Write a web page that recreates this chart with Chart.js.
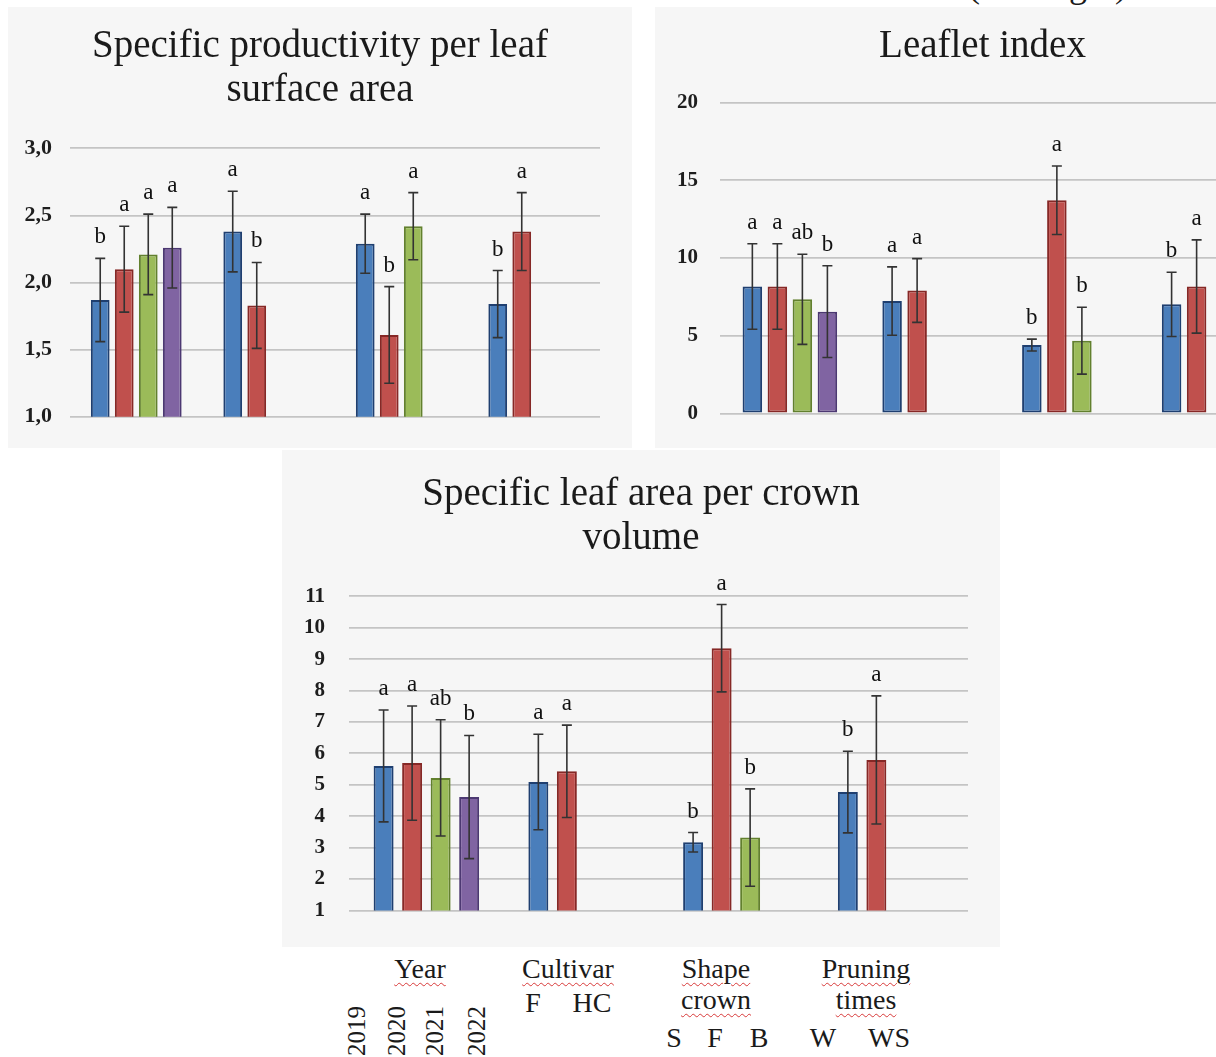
<!DOCTYPE html>
<html lang="en">

<head>
    <meta charset="UTF-8">
    <title>Leaf indices</title>
    <script src="https://cdn.jsdelivr.net/npm/chart.js"></script>
    <style>
        html, body {
            margin: 0;
            padding: 0;
            background: #fff;
            overflow: hidden;
            width: 1216px;
            height: 1057px;
        }

        body {
            position: relative;
            font-family: 'Liberation Serif', 'Times New Roman', serif;
            color: #1a1a1a;
        }

        .panel {
            position: absolute;
            background: #f6f6f6;
        }

        #p1 { left: 8px; top: 7px; width: 624px; height: 441px; }
        #p2 { left: 655px; top: 7px; width: 655px; height: 441px; }
        #p3 { left: 282px; top: 450px; width: 718px; height: 497px; }

        .lbl {
            position: absolute;
            font-size: 28px;
            line-height: 1;
            transform: translateX(-50%);
            white-space: nowrap;
        }

        .squig {
            text-decoration: underline wavy #d83a3a;
            text-decoration-thickness: 1px;
            text-underline-offset: 4px;
        }

        .yr {
            position: absolute;
            font-size: 25px;
            line-height: 1;
            transform-origin: 0 0;
            transform: rotate(-90deg);
            white-space: nowrap;
        }

        #cut {
            position: absolute;
            left: 968px;
            top: -33px;
            font-size: 36px;
            line-height: 1;
            white-space: nowrap;
        }
    </style>
</head>

<body>
    <div id="cut">(in weight)</div>

    <div class="panel" id="p1"><canvas id="prodChart"></canvas></div>
    <div class="panel" id="p2"><canvas id="leafletChart"></canvas></div>
    <div class="panel" id="p3"><canvas id="crownChart"></canvas></div>

    <!-- group captions pasted under the lower chart -->
    <div class="lbl squig" style="left:420px; top:955px;">Year</div>
    <div class="lbl squig" style="left:568px; top:955px;">Cultivar</div>
    <div class="lbl squig" style="left:716px; top:955px;">Shape</div>
    <div class="lbl squig" style="left:716px; top:986px;">crown</div>
    <div class="lbl squig" style="left:866px; top:955px;">Pruning</div>
    <div class="lbl squig" style="left:866px; top:986px;">times</div>

    <div class="lbl" style="left:533px; top:989px;">F</div>
    <div class="lbl" style="left:592px; top:989px;">HC</div>

    <div class="lbl" style="left:674px; top:1024px;">S</div>
    <div class="lbl" style="left:715px; top:1024px;">F</div>
    <div class="lbl" style="left:759px; top:1024px;">B</div>
    <div class="lbl" style="left:823px; top:1024px;">W</div>
    <div class="lbl" style="left:889px; top:1024px;">WS</div>

    <div class="yr" style="left:344px; top:1056px;">2019</div>
    <div class="yr" style="left:384px; top:1056px;">2020</div>
    <div class="yr" style="left:422px; top:1056px;">2021</div>
    <div class="yr" style="left:464px; top:1056px;">2022</div>

    <script>
        // categories (x axis labels are not shown, captions sit under the lower chart)
        const groups = ['Year', 'Cultivar', 'Shape crown', 'Pruning times'];

        // Specific productivity per leaf surface area - one inner array per group
        const prodMeans = [[1.87, 2.10, 2.21, 2.26], [2.38, 1.83], [2.29, 1.61, 2.42], [1.84, 2.38]];
        const prodErrors = [[0.31, 0.32, 0.30, 0.30], [0.30, 0.32], [0.22, 0.36, 0.25], [0.25, 0.29]];
        const prodLetters = [['b', 'a', 'a', 'a'], ['a', 'b'], ['a', 'b', 'a'], ['b', 'a']];
        const prodTicks = { min: 1.0, max: 3.0, step: 0.5 };

        // Leaflet index
        const leafMeans = [[8.17, 8.17, 7.34, 6.55], [7.23, 7.91], [4.40, 13.72, 4.68], [7.02, 8.17]];
        const leafErrors = [[2.75, 2.75, 2.90, 2.95], [2.20, 2.05], [0.38, 2.20, 2.15], [2.07, 3.00]];
        const leafLetters = [['a', 'a', 'ab', 'b'], ['a', 'a'], ['b', 'a', 'b'], ['b', 'a']];
        const leafTicks = { min: 0, max: 20, step: 5 };

        // Specific leaf area per crown volume
        const crownMeans = [[5.60, 5.69, 5.22, 4.61], [5.09, 5.43], [3.17, 9.35, 3.32], [4.77, 5.79]];
        const crownErrors = [[1.78, 1.82, 1.85, 1.96], [1.52, 1.47], [0.31, 1.39, 1.55], [1.30, 2.04]];
        const crownLetters = [['a', 'a', 'ab', 'b'], ['a', 'a'], ['b', 'a', 'b'], ['b', 'a']];
        const crownTicks = { min: 1, max: 11, step: 1 };

        const fills = ['#4a7ebb', '#c0504d', '#9bbb59', '#8064a2'];
        const edges = ['#1f3f70', '#862826', '#62802e', '#4c3872'];
        const serif = "'Liberation Serif', 'Times New Roman', serif";

        // error bars + significance letters, drawn on top of the bars
        const errorBars = {
            id: 'errorBars',
            afterDatasetsDraw(chart) {
                const ctx = chart.ctx;
                const y = chart.scales.y;
                ctx.save();
                ctx.strokeStyle = '#333';
                ctx.lineWidth = 1.6;
                ctx.fillStyle = '#111';
                ctx.font = '23px ' + serif;
                ctx.textAlign = 'center';
                ctx.textBaseline = 'alphabetic';
                chart.data.datasets.forEach((ds, di) => {
                    const meta = chart.getDatasetMeta(di);
                    meta.data.forEach((bar, i) => {
                        const v = ds.data[i];
                        if (v == null) return;
                        const e = ds.errors[i];
                        const top = y.getPixelForValue(v + e);
                        const bot = y.getPixelForValue(v - e);
                        ctx.beginPath();
                        ctx.moveTo(bar.x, top);
                        ctx.lineTo(bar.x, bot);
                        ctx.moveTo(bar.x - 5, top);
                        ctx.lineTo(bar.x + 5, top);
                        ctx.moveTo(bar.x - 5, bot);
                        ctx.lineTo(bar.x + 5, bot);
                        ctx.stroke();
                        ctx.fillText(ds.letters[i], bar.x, top - 15);
                    });
                });
                ctx.restore();
            }
        };

        function buildDatasets(means, errors, letters, barPct, catPct) {
            const sets = [];
            for (let k = 0; k < 4; k++) {
                sets.push({
                    data: means.map(g => g[k] ?? null),
                    errors: errors.map(g => g[k] ?? null),
                    letters: letters.map(g => g[k] ?? ''),
                    backgroundColor: fills[k],
                    borderColor: edges[k],
                    borderWidth: 2,
                    borderSkipped: false,
                    barPercentage: barPct,
                    categoryPercentage: catPct
                });
            }
            return sets;
        }

        function makeChart(id, cfg) {
            return new Chart(document.getElementById(id), {
                type: 'bar',
                data: {
                    labels: groups,
                    datasets: buildDatasets(cfg.means, cfg.errors, cfg.letters, cfg.barPct, cfg.catPct)
                },
                options: {
                    responsive: true,
                    maintainAspectRatio: false,
                    animation: false,
                    layout: { padding: { left: 0, right: 0, top: 0, bottom: cfg.padBottom } },
                    plugins: {
                        legend: { display: false },
                        tooltip: { enabled: false },
                        title: {
                            display: true,
                            text: cfg.title,
                            color: '#1a1a1a',
                            font: { family: serif, size: 39, weight: 'normal', lineHeight: 1.12 },
                            padding: { top: cfg.titleTop, bottom: cfg.titleBottom }
                        }
                    },
                    scales: {
                        x: { display: false },
                        y: {
                            min: cfg.ticks.min,
                            max: cfg.ticks.max,
                            afterFit: s => { s.width = cfg.axisWidth; },
                            border: { display: false },
                            grid: { color: '#c4c4c4', lineWidth: 1.8, drawTicks: false },
                            ticks: {
                                stepSize: cfg.ticks.step,
                                padding: cfg.tickPad,
                                color: '#1e1e1e',
                                font: { family: serif, size: cfg.tickSize, weight: 'bold' },
                                callback: cfg.format
                            }
                        },
                        // empty right-hand box, keeps the plot off the right edge
                        // while the title stays centred on the whole panel
                        spacer: {
                            type: 'linear',
                            position: 'right',
                            afterFit: s => { s.width = cfg.padRight; },
                            grid: { display: false },
                            border: { display: false },
                            ticks: { display: false }
                        }
                    }
                },
                plugins: [errorBars]
            });
        }

        makeChart('prodChart', {
            title: ['Specific productivity per leaf', 'surface area'],
            means: prodMeans, errors: prodErrors, letters: prodLetters, ticks: prodTicks,
            barPct: 0.78, catPct: 0.725,
            padRight: 32, padBottom: 30, titleTop: 18, titleBottom: 36,
            axisWidth: 62, tickPad: 18, tickSize: 22,
            format: v => v.toFixed(1).replace('.', ',')
        });

        makeChart('leafletChart', {
            title: 'Leaflet index',
            means: leafMeans, errors: leafErrors, letters: leafLetters, ticks: leafTicks,
            barPct: 0.78, catPct: 0.716,
            padRight: 31, padBottom: 31, titleTop: 18, titleBottom: 34,
            axisWidth: 65, tickPad: 22, tickSize: 21,
            format: v => v
        });

        makeChart('crownChart', {
            title: ['Specific leaf area per crown', 'volume'],
            means: crownMeans, errors: crownErrors, letters: crownLetters, ticks: crownTicks,
            barPct: 0.70, catPct: 0.737,
            padRight: 32, padBottom: 31, titleTop: 23, titleBottom: 36,
            axisWidth: 67, tickPad: 24, tickSize: 21,
            format: v => v
        });
    </script>
</body>

</html>
